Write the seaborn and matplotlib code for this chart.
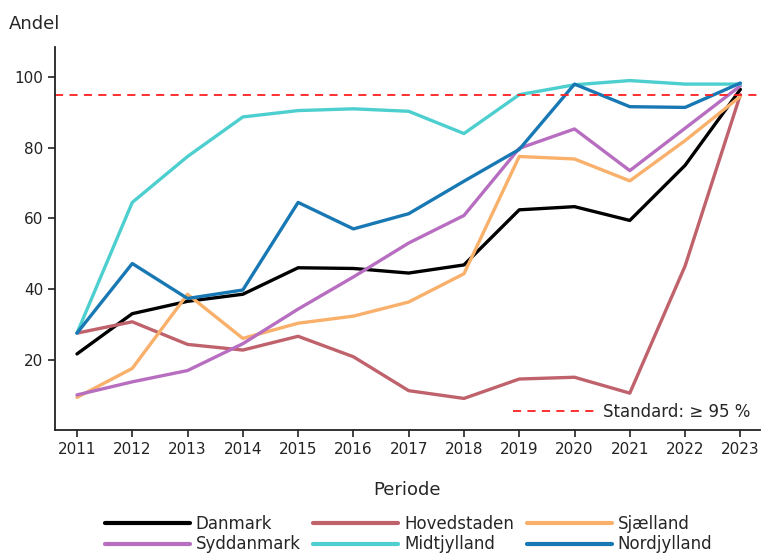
import numpy as np
import pandas as pd
import seaborn as sns
import matplotlib.pyplot as plt
from matplotlib.lines import Line2D

# data
years = list(range(2011, 2024))
danmark = [21.6, 33.0, 36.5, 38.5, 46.0, 45.8, 44.5, 46.8, 62.4, 63.3, 59.4, 75.0, 96.5]
hovedstaden = [27.5, 30.7, 24.3, 22.7, 26.6, 20.8, 11.2, 9.0, 14.5, 15.0, 10.5, 46.5, 95.0]
sjaelland = [9.3, 17.5, 38.5, 26.0, 30.3, 32.3, 36.3, 44.3, 77.5, 76.8, 70.6, 82.0, 94.5]
syddanmark = [10.0, 13.7, 16.9, 24.5, 34.3, 43.4, 53.0, 60.8, 79.8, 85.3, 73.5, 85.5, 97.5]
midtjylland = [27.5, 64.5, 77.5, 88.7, 90.5, 91.0, 90.3, 84.0, 95.0, 97.8, 99.0, 98.0, 98.0]
nordjylland = [27.5, 47.2, 37.3, 39.7, 64.5, 57.0, 61.3, 70.5, 79.5, 98.0, 91.6, 91.4, 98.3]

regions = ["Danmark", "Hovedstaden", "Sjælland", "Syddanmark", "Midtjylland", "Nordjylland"]
colors = ["#000000", "#c0626c", "#f9b06a", "#b86ec0", "#4dcfcf", "#1878b4"]
standard = 95

# build a long table for seaborn
series = [danmark, hovedstaden, sjaelland, syddanmark, midtjylland, nordjylland]
rows = []
for name, values in zip(regions, series):
    for year, v in zip(years, values):
        rows.append({"Periode": year, "Andel": v, "Region": name})
data_frame = pd.DataFrame(rows)

sns.set_style("ticks")
plt.rcParams['font.family'] = ['DejaVu Sans']

fig = plt.figure(figsize=(7.62, 5.53), dpi=100)
ax = fig.add_axes([0.072, 0.222, 0.925, 0.693])

sns.lineplot(data=data_frame, x="Periode", y="Andel", hue="Region",
             palette=dict(zip(regions, colors)), linewidth=2.4, ax=ax, legend=False)

std_line = ax.axhline(standard, color="#ff2020", linestyle=(0, (4.5, 3.5)), linewidth=1.3)

ax.set_xlim(2010.6, 2023.35)
ax.set_ylim(0, 108.5)
ax.set_xticks(years)
ax.set_yticks([20, 40, 60, 80, 100])
ax.tick_params(labelsize=11, length=5, width=1.2, colors="#222222")
for side in ["top", "right"]:
    ax.spines[side].set_visible(False)
for side in ["left", "bottom"]:
    ax.spines[side].set_linewidth(1.3)
    ax.spines[side].set_color("#222222")

ax.set_xlabel("Periode", fontsize=13, labelpad=17)
ax.set_ylabel("")
fig.text(0.012, 0.957, "Andel", fontsize=13, ha="left", va="center")

# region legend below the chart, filled row by row like the reference
order = [0, 3, 1, 4, 2, 5]
handles = [Line2D([0], [0], color=colors[i], linewidth=3) for i in order]
labels = [regions[i] for i in order]
fig.legend(handles, labels, loc="lower center", bbox_to_anchor=(0.536, -0.028), ncol=3,
           frameon=False, fontsize=12, handlelength=5.1, columnspacing=0.75,
           handletextpad=0.36, labelspacing=0.15)

# standard line legend inside the axes
ax.legend([std_line], ["Standard: \u2265 95 %"], loc="lower right", frameon=False,
          fontsize=12, handlelength=4.9, borderaxespad=0.15, handletextpad=0.5)

plt.savefig("out.png", format="png", dpi=100)
